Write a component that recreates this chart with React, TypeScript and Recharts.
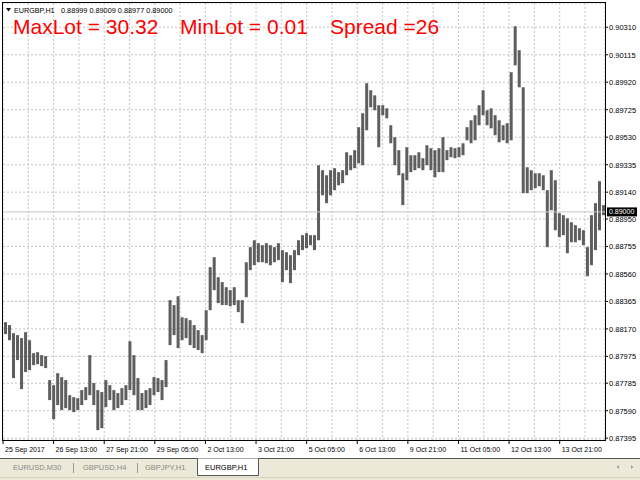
import React from 'react';
import { BarChart, Bar, XAxis, YAxis, CartesianGrid, ReferenceLine } from 'recharts';

// EURGBP H1, high / low of each bar (left to right)
const highs = [
  0.88218, 0.88197, 0.88140, 0.88126, 0.88105, 0.88147, 0.88090, 0.87998, 0.88005, 0.87984,
  0.87977, 0.87807, 0.87771, 0.87856, 0.87828, 0.87807, 0.87700, 0.87686, 0.87679, 0.87736,
  0.87757, 0.87984, 0.87786, 0.87736, 0.87722, 0.87807, 0.87771, 0.87736, 0.87715, 0.87750,
  0.87771, 0.88083, 0.87984, 0.87821, 0.87715, 0.87736, 0.87750, 0.87828, 0.87821, 0.87807,
  0.87949, 0.88374, 0.88339, 0.88402, 0.88253, 0.88246, 0.88232, 0.88197, 0.88161, 0.88126,
  0.88303, 0.88608, 0.88679, 0.88537, 0.88502, 0.88466, 0.88445, 0.88466, 0.88374, 0.88374,
  0.88643, 0.88750, 0.88799, 0.88778, 0.88764, 0.88778, 0.88764, 0.88750, 0.88778, 0.88729,
  0.88714, 0.88693, 0.88729, 0.88799, 0.88835, 0.88849, 0.88835, 0.88835, 0.89331, 0.89296,
  0.89260, 0.89296, 0.89310, 0.89282, 0.89296, 0.89423, 0.89402, 0.89438, 0.89601, 0.89700,
  0.89913, 0.89863, 0.89827, 0.89757, 0.89757, 0.89735, 0.89615, 0.89530, 0.89438, 0.89274,
  0.89459, 0.89402, 0.89402, 0.89423, 0.89381, 0.89473, 0.89452, 0.89438, 0.89452, 0.89530,
  0.89438, 0.89459, 0.89452, 0.89459, 0.89487, 0.89601, 0.89650, 0.89686, 0.89757, 0.89863,
  0.89721, 0.89735, 0.89686, 0.89650, 0.89615, 0.89629, 0.89991, 0.90317, 0.90147, 0.89884,
  0.89317, 0.89296, 0.89274, 0.89274, 0.89260, 0.89154, 0.89296, 0.89225, 0.88991, 0.88977,
  0.88955, 0.88927, 0.88906, 0.88884, 0.88870, 0.88750, 0.88977, 0.89062, 0.89218, 0.89048,
];
const lows = [
  0.88133, 0.88090, 0.87821, 0.87949, 0.87743, 0.87864, 0.87878, 0.87913, 0.87920, 0.87906,
  0.87892, 0.87665, 0.87530, 0.87630, 0.87594, 0.87608, 0.87594, 0.87580, 0.87594, 0.87630,
  0.87665, 0.87700, 0.87630, 0.87452, 0.87466, 0.87615, 0.87665, 0.87594, 0.87608, 0.87630,
  0.87665, 0.87736, 0.87700, 0.87594, 0.87594, 0.87608, 0.87630, 0.87700, 0.87722, 0.87665,
  0.87757, 0.88055, 0.88126, 0.88034, 0.88090, 0.88105, 0.88055, 0.88034, 0.88020, 0.87998,
  0.88090, 0.88303, 0.88445, 0.88353, 0.88339, 0.88339, 0.88331, 0.88339, 0.88289, 0.88211,
  0.88395, 0.88587, 0.88622, 0.88643, 0.88643, 0.88636, 0.88622, 0.88643, 0.88658, 0.88502,
  0.88587, 0.88495, 0.88587, 0.88693, 0.88729, 0.88743, 0.88764, 0.88729, 0.88799, 0.89118,
  0.89062, 0.89118, 0.89154, 0.89189, 0.89204, 0.89260, 0.89296, 0.89310, 0.89345, 0.89331,
  0.89579, 0.89742, 0.89721, 0.89459, 0.89686, 0.89664, 0.89487, 0.89331, 0.89260, 0.89048,
  0.89225, 0.89282, 0.89296, 0.89310, 0.89296, 0.89331, 0.89296, 0.89246, 0.89282, 0.89282,
  0.89367, 0.89388, 0.89381, 0.89388, 0.89402, 0.89508, 0.89487, 0.89508, 0.89615, 0.89686,
  0.89615, 0.89593, 0.89544, 0.89494, 0.89508, 0.89487, 0.89508, 0.90040, 0.89884, 0.89133,
  0.89133, 0.89154, 0.89168, 0.89182, 0.89154, 0.88750, 0.89012, 0.88870, 0.88821, 0.88835,
  0.88707, 0.88785, 0.88785, 0.88799, 0.88764, 0.88544, 0.88622, 0.88729, 0.88870, 0.88977,
];

const priceTicks = [
  0.87395, 0.87590, 0.87785, 0.87975, 0.88170, 0.88365, 0.88560, 0.88755,
  0.88950, 0.89140, 0.89335, 0.89530, 0.89725, 0.89920, 0.90115, 0.90310,
];
const timeLabels = [
  '25 Sep 2017', '26 Sep 13:00', '27 Sep 21:00', '29 Sep 05:00', '2 Oct 13:00', '3 Oct 21:00',
  '5 Oct 05:00', '6 Oct 13:00', '9 Oct 21:00', '11 Oct 05:00', '12 Oct 13:00', '13 Oct 21:00',
];
const lastPrice = 0.89;
const symbol = 'EURGBP,H1';
const quote = '0.88999 0.89009 0.88977 0.89000';
const infoTexts = ['MaxLot = 30.32', 'MinLot = 0.01', 'Spread =26'];
const tabs = ['EURUSD,M30', 'GBPUSD,H4', 'GBPJPY,H1', 'EURGBP,H1'];

const FONT = '"Liberation Sans", Arial, sans-serif';
const GRID_STEP = 6.305; // bars between dotted vertical lines

const data = highs.map((h, i) => ({ i, range: [lows[i], h] }));
const xTicks = timeLabels.flatMap((_, k) => [-0.5 + 2 * k * GRID_STEP, -0.5 + (2 * k + 1) * GRID_STEP]);

const TimeTick = (props: any) => {
  const { x, y, index } = props;
  if (index % 2 !== 0) return <g />;
  return (
    <g>
      <line x1={x} x2={x} y1={y} y2={y + 4} stroke="#000" />
      <text x={x + 2} y={y + 11.5} fontSize={7} fontFamily={FONT} fill="#000">
        {timeLabels[index / 2]}
      </text>
    </g>
  );
};

const PriceTick = (props: any) => {
  const { x, y, payload } = props;
  return (
    <text x={x} y={y + 2.9} fontSize={7.5} fontFamily={FONT} fill="#000">
      {Number(payload.value).toFixed(5)}
    </text>
  );
};

const LastPriceLabel = (props: any) => {
  const vb = props.viewBox || {};
  const right = vb.x + vb.width;
  return (
    <g>
      <rect x={right + 2} y={vb.y - 4.5} width={30} height={9} fill="#000" />
      <text x={right + 4} y={vb.y + 2.3} fontSize={7} fontFamily={FONT} fill="#fff">
        {lastPrice.toFixed(5)}
      </text>
    </g>
  );
};

export default function App() {
  return (
    <div style={{ position: 'absolute', left: 0, top: 0, width: 640, height: 480, background: '#fff' }}>
      <BarChart width={640} height={458} data={data} margin={{ top: 3, right: 0, left: 3, bottom: 0 }}>
        <CartesianGrid stroke="#c4c4c4" strokeDasharray="2 2" />
        <XAxis
          dataKey="i"
          type="number"
          domain={[-0.5, 149.5]}
          ticks={xTicks}
          interval={0}
          height={18}
          axisLine={false}
          tickLine={false}
          tickSize={0}
          tickMargin={0}
          tick={<TimeTick />}
        />
        <YAxis
          orientation="right"
          width={35}
          domain={[0.87382, 0.90482]}
          allowDataOverflow
          ticks={priceTicks}
          interval={0}
          axisLine={false}
          tickLine={{ stroke: '#000' }}
          tickSize={3}
          tickMargin={1}
          tick={<PriceTick />}
        />
        <ReferenceLine y={lastPrice} stroke="#c8c8c8" label={<LastPriceLabel />} />
        <Bar dataKey="range" fill="#5e5e5e" barSize={3} isAnimationActive={false} />
      </BarChart>
      <svg width={640} height={480} style={{ position: 'absolute', left: 0, top: 0, pointerEvents: 'none' }}>
        <rect x={2.5} y={2.5} width={603} height={438} fill="none" stroke="#000" />
        <polygon points="6,8 11,8 8.5,11.5" fill="#000" />
        <text x={14} y={12.7} fontSize={7.2} fontFamily={FONT} fill="#000">
          {symbol}
        </text>
        <text x={61} y={12.7} fontSize={7.3} fontFamily={FONT} fill="#000">
          {quote}
        </text>
        {infoTexts.map((t, k) => (
          <text key={t} x={[13, 180, 330][k]} y={34} fontSize={21} fontFamily={FONT} fill="#ff0000">
            {t}
          </text>
        ))}
        <rect x={0} y={458} width={640} height={22} fill="#ece9d8" />
        <line x1={0} x2={640} y1={458.5} y2={458.5} stroke="#555" />
        <path d="M197.5,458.5 V475.5 H258.5 V458.5" fill="#fff" stroke="#555" />
        <line x1={73.5} x2={73.5} y1={463} y2={473} stroke="#999" />
        <line x1={137.5} x2={137.5} y1={463} y2={473} stroke="#999" />
        {tabs.map((t, k) => (
          <text
            key={t}
            x={[13, 83, 145, 205][k]}
            y={469.7}
            fontSize={7.5}
            fontFamily={FONT}
            fill={k === tabs.length - 1 ? '#000' : '#8a8a8a'}
          >
            {t}
          </text>
        ))}
        <line x1={0} x2={640} y1={477.5} y2={477.5} stroke="#d6d2bd" />
        <polygon points="619,465 619,469 616.5,467" fill="#a0a0a0" />
        <polygon points="631,465 631,469 633.5,467" fill="#a0a0a0" />
      </svg>
    </div>
  );
}
